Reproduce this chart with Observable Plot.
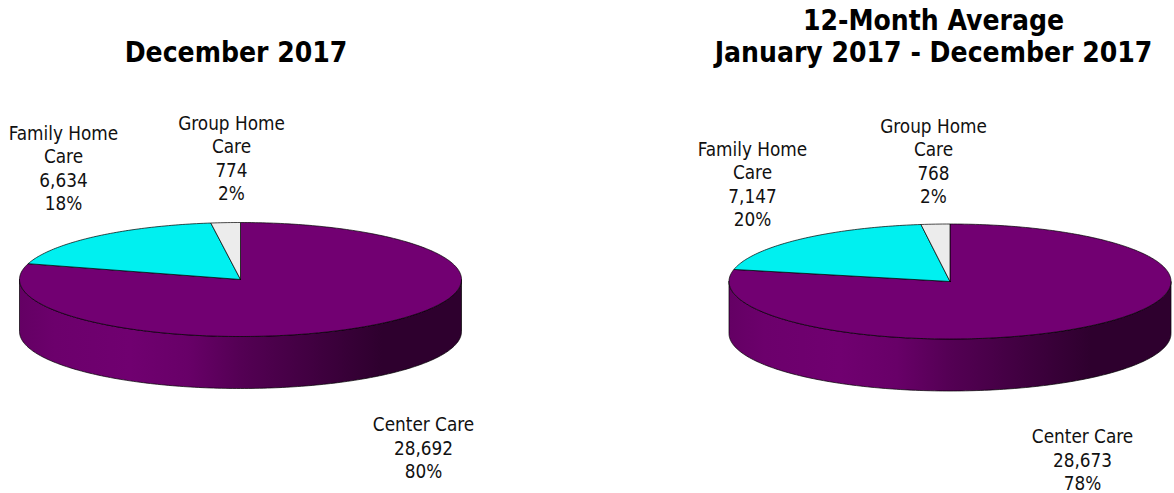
<!DOCTYPE html>
<html>
<head>
<meta charset="utf-8">
<style>html,body{margin:0;padding:0;background:#fff}svg{display:block}</style>
<script src="https://cdn.jsdelivr.net/npm/d3@7"></script>
<script src="https://cdn.jsdelivr.net/npm/@observablehq/plot@0.6"></script>
</head>
<body>
<script>
const categories = ["Center Care", "Family Home\nCare", "Group Home\nCare"];
const decemberValues = [28692, 6634, 774];
const decemberPercents = ["80%", "18%", "2%"];
const averageValues = [28673, 7147, 768];
const averagePercents = ["78%", "20%", "2%"];
const sliceColors = ["#720072", "#00f0f0", "#ececec"];

const charts = [
  {values: decemberValues, percents: decemberPercents, title: "December 2017",
   titleAt: [235.5, 51], cx: 240, cy: 279, rx: 221, ry: 57, depth: 52,
   labelAt: [[423, 446.5], [63, 167], [231, 157]]},
  {values: averageValues, percents: averagePercents, title: "12-Month Average\nJanuary 2017 - December 2017",
   titleAt: [933, 35], cx: 949.5, cy: 281, rx: 221, ry: 57.5, depth: 52,
   labelAt: [[1082, 458.5], [752, 183], [933, 160]]}
];

const marks = [];
const gradientStops = [[0, "#640064"], [0.08, "#6c006c"], [0.25, "#700070"], [0.38, "#680068"], [0.5, "#540054"], [0.7, "#3c003c"], [0.82, "#2e002e"], [1, "#2e002e"]];

marks.push(() => {
  const svg = d3.create("svg:g");
  const g = svg.append("linearGradient").attr("id", "wall");
  for (const [o, c] of gradientStops) g.append("stop").attr("offset", o).attr("stop-color", c);
  return svg.node();
});

for (const c of charts) {
  const px = (t) => c.cx + c.rx * Math.sin(t);
  const py = (t) => c.cy - c.ry * Math.cos(t);

  // wall: the front half of the rim, extruded downward
  const wall = d3.range(0, 180.5, 1).map((d) => {
    const u = d / 180 * Math.PI;
    return {x: c.cx - c.rx * Math.cos(u), y1: c.cy + c.ry * Math.sin(u), y2: c.cy + c.ry * Math.sin(u) + c.depth};
  });
  const outline = [...wall.map((p) => ({x: p.x, y: p.y1})), ...wall.slice().reverse().map((p) => ({x: p.x, y: p.y2}))];
  marks.push(Plot.line([...outline, outline[0]], {x: "x", y: "y", fill: "url(#wall)", stroke: "#000", strokeWidth: 0.7}));

  // slices: Center Care starts at 12 o'clock and runs clockwise
  const total = d3.sum(c.values);
  let a = 0;
  c.values.forEach((v, i) => {
    const sweep = v / total * 2 * Math.PI;
    const steps = d3.range(0, 1.0001, 1 / Math.max(4, Math.ceil(sweep * 60)));
    const pts = [{x: c.cx, y: c.cy}, ...steps.map((s) => {
      const t = a + s * sweep;
      return {x: px(t), y: py(t)};
    }), {x: c.cx, y: c.cy}];
    marks.push(Plot.line(pts, {x: "x", y: "y", fill: sliceColors[i], stroke: "#000", strokeWidth: 0.7}));
    a += sweep;
  });

  marks.push(Plot.text(c.values.map((v, i) => ({
    label: `${categories[i]}\n${d3.format(",")(v)}\n${c.percents[i]}`,
    x: c.labelAt[i][0], y: c.labelAt[i][1]
  })), {x: "x", y: "y", text: "label", fontSize: 18.8, fill: "#111", lineHeight: 1.245,
       fontFamily: "DejaVu Sans Condensed, DejaVu Sans"}));

  marks.push(Plot.text([c.title], {x: () => c.titleAt[0], y: () => c.titleAt[1], text: (d) => d, fontSize: 28,
       fontWeight: "bold", fill: "#000", lineHeight: 1.14, fontFamily: "DejaVu Sans Condensed, DejaVu Sans"}));
}

const chart = Plot.plot({
  width: 1174, height: 493, margin: 0,
  x: {domain: [0, 1174], range: [0, 1174], axis: null},
  y: {domain: [0, 493], range: [0, 493], axis: null},
  marks
});
document.body.appendChild(chart);
</script>
</body>
</html>
